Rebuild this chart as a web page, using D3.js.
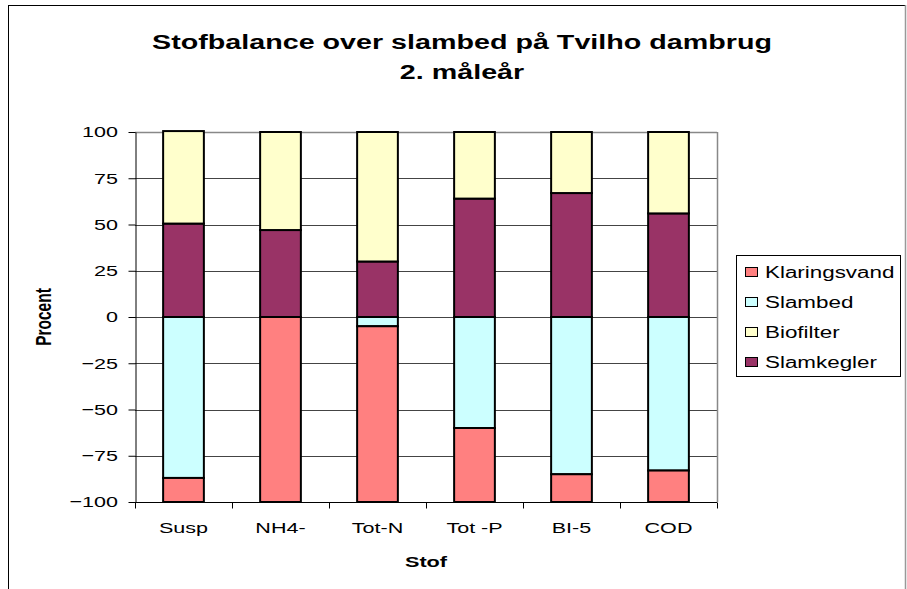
<!DOCTYPE html>
<html>
<head>
<meta charset="utf-8">
<script src="https://cdn.jsdelivr.net/npm/d3@7"></script>
<style>
  body { margin: 0; background: #fff; }
  text { font-family: "Liberation Sans", Arial, sans-serif; fill: #000; }
</style>
</head>
<body>
<div id="chart"></div>
<script>
// data (percent)
const categories = ["Susp", "NH4-", "Tot-N", "Tot -P", "BI-5", "COD"];
const klaringsvand = [-13, -100, -95, -40, -15, -17];
const slambed = [-87, 0, -5, -60, -85, -83];
const biofilter = [50, 53, 70, 36, 33, 44];
const slamkegler = [50.5, 47, 30, 64, 67, 56];
const yTicks = [-100, -75, -50, -25, 0, 25, 50, 75, 100];

const seriesNames = ["Klaringsvand", "Slambed", "Biofilter", "Slamkegler"];
const colors = {
  Klaringsvand: "#ff8080",
  Slambed: "#ccffff",
  Biofilter: "#ffffcc",
  Slamkegler: "#993366"
};

// text in the picture is stretched sideways
const sx = 1.4;

var svgWidth = 907;
var svgHeight = 589;

let plot = { left: 135, right: 717, top: 132, bottom: 502 };

let svg = d3.select("#chart")
  .append("svg")
  .attr("width", svgWidth)
  .attr("height", svgHeight);

// outer chart frame
svg.append("rect")
  .attr("x", 8.5).attr("y", 5.5)
  .attr("width", 897).attr("height", 600)
  .attr("fill", "none")
  .attr("stroke", "#000")
  .attr("stroke-width", 1);
svg.append("line")
  .attr("x1", 905.5).attr("x2", 905.5).attr("y1", 5).attr("y2", 589)
  .attr("stroke", "#999").attr("stroke-width", 1.5);

// build table for the stack
let table = categories.map((c, i) => ({
  cat: c,
  Klaringsvand: klaringsvand[i],
  Slambed: slambed[i],
  Biofilter: biofilter[i],
  Slamkegler: slamkegler[i]
}));

let stack = d3.stack()
  .keys(["Slambed", "Klaringsvand", "Slamkegler", "Biofilter"])
  .offset(d3.stackOffsetDiverging);
let stacked = stack(table);

let x = d3.scaleBand()
  .domain(categories)
  .range([plot.left, plot.right])
  .paddingInner(0.58)
  .paddingOuter(0.29);

let y = d3.scaleLinear()
  .domain([-100, 100])
  .range([plot.bottom, plot.top]);

// gridlines
svg.append("g")
  .selectAll("line")
  .data(yTicks)
  .enter()
  .append("line")
  .attr("x1", plot.left)
  .attr("x2", plot.right)
  .attr("y1", d => Math.round(y(d)) + 0.5)
  .attr("y2", d => Math.round(y(d)) + 0.5)
  .attr("stroke", "#444")
  .attr("stroke-width", 1);

// plot area frame (right side grey)
svg.append("line")
  .attr("x1", plot.right + 0.5).attr("x2", plot.right + 0.5)
  .attr("y1", plot.top).attr("y2", plot.bottom)
  .attr("stroke", "#888").attr("stroke-width", 1.5);
svg.append("line")
  .attr("x1", plot.left).attr("x2", plot.right)
  .attr("y1", plot.top + 0.5).attr("y2", plot.top + 0.5)
  .attr("stroke", "#888").attr("stroke-width", 1.5);

// bars
svg.append("g")
  .selectAll("g")
  .data(stacked)
  .enter()
  .append("g")
  .attr("fill", d => colors[d.key])
  .selectAll("rect")
  .data(d => d.filter(p => p[1] !== p[0]))
  .enter()
  .append("rect")
  .attr("x", d => x(d.data.cat))
  .attr("width", x.bandwidth())
  .attr("y", d => y(Math.max(d[0], d[1])))
  .attr("height", d => Math.abs(y(d[0]) - y(d[1])))
  .attr("stroke", "#000")
  .attr("stroke-width", 2);

// y axis
let yAxis = d3.axisLeft(y)
  .tickValues(yTicks)
  .tickSize(7)
  .tickSizeOuter(0);

let yg = svg.append("g")
  .attr("transform", `translate(${plot.left + 0.5}, 0)`)
  .call(yAxis);
yg.select(".domain").attr("stroke", "#000");
yg.selectAll(".tick line").attr("stroke", "#000");
yg.selectAll(".tick text")
  .attr("x", -17.5 / sx)
  .attr("transform", `scale(${sx},1)`)
  .style("font-size", "15.4px");

// x axis: ticks between categories
let xg = svg.append("g")
  .attr("transform", `translate(0, ${plot.bottom + 0.5})`);
xg.append("line")
  .attr("x1", plot.left).attr("x2", plot.right)
  .attr("stroke", "#000");
xg.selectAll(".bound")
  .data(d3.range(categories.length + 1))
  .enter()
  .append("line")
  .attr("class", "bound")
  .attr("x1", i => plot.left + i * x.step() + 0.5)
  .attr("x2", i => plot.left + i * x.step() + 0.5)
  .attr("y1", 0).attr("y2", 6)
  .attr("stroke", "#000");

let xAxis = d3.axisBottom(x).tickSize(0).tickPadding(20);
let xl = svg.append("g")
  .attr("transform", `translate(0, ${plot.bottom})`)
  .call(xAxis);
xl.select(".domain").remove();
xl.selectAll(".tick text")
  .attr("transform", `scale(${sx},1)`)
  .style("font-size", "15.4px");

// helper for stretched text
function stretchedText(tx, ty, str, size, bold) {
  return svg.append("text")
    .attr("transform", `translate(${tx}, ${ty}) scale(${sx},1)`)
    .attr("text-anchor", "middle")
    .style("font-size", size + "px")
    .style("font-weight", bold ? "bold" : "normal")
    .text(str);
}

// title
stretchedText(462, 49, "Stofbalance over slambed på Tvilho dambrug", 20.5, true);
stretchedText(462, 79, "2. måleår", 20.5, true);

// axis titles
stretchedText((plot.left + plot.right) / 2, 567, "Stof", 15.5, true);

svg.append("text")
  .attr("transform", `translate(51, ${(plot.top + plot.bottom) / 2}) scale(${sx},1) rotate(-90)`)
  .attr("text-anchor", "middle")
  .style("font-size", "15.5px")
  .style("font-weight", "bold")
  .text("Procent");

// legend
let legend = svg.append("g");
legend.append("rect")
  .attr("x", 736.5).attr("y", 255.5)
  .attr("width", 164).attr("height", 121)
  .attr("fill", "#fff")
  .attr("stroke", "#000");

let items = legend.selectAll(".item")
  .data(seriesNames)
  .enter()
  .append("g")
  .attr("class", "item")
  .attr("transform", (d, i) => `translate(745, ${272 + i * 30})`);

items.append("rect")
  .attr("x", 0.5).attr("y", -4.5)
  .attr("width", 12).attr("height", 9)
  .attr("fill", d => colors[d])
  .attr("stroke", "#000");

items.append("text")
  .attr("x", 20 / sx)
  .attr("y", 6)
  .attr("transform", `scale(${sx},1)`)
  .style("font-size", "16px")
  .text(d => d);
</script>
</body>
</html>
